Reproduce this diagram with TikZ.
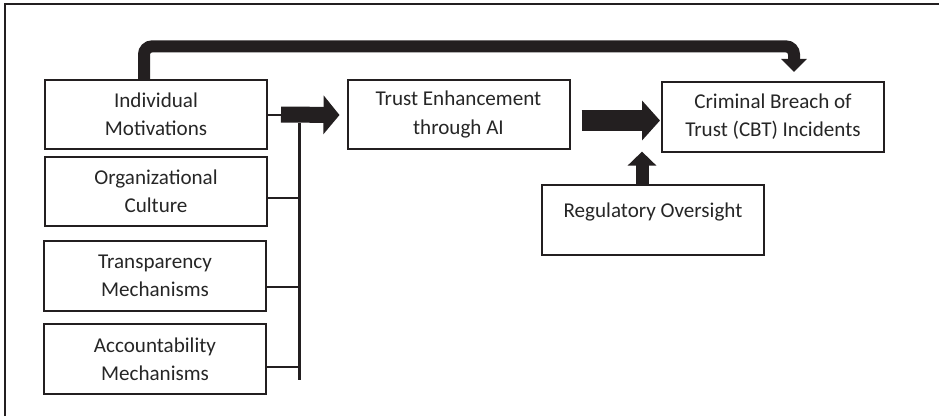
\documentclass[tikz,border=0pt]{standalone}
\usepackage{fontspec}
\setmainfont{Carlito}
\usetikzlibrary{arrows.meta,calc}
\definecolor{ink}{RGB}{35,31,32}
\begin{document}
\begin{tikzpicture}[x=0.25mm,y=-0.25mm, font=\fontsize{15}{20}\selectfont, line join=miter,
	box/.style={draw=ink, line width=0.5mm, minimum width=55.5mm, minimum height=17.3mm, align=center, text=black!85, inner sep=0pt},
	thin/.style={draw=ink, line width=0.5mm},
	fat/.style={draw=ink, line width=#1}]
	\useasboundingbox (0,0) rectangle (939,416);
	\draw[ink, line width=0.4mm] (5,416)--(5,4)--(939,4);
	\node[box] (ind) at (156,114.5) {Individual\\Motivations};
	\node[box] (org) at (156,191.5) {Organizational\\Culture};
	\node[box] (trans) at (155,276) {Transparency\\Mechanisms};
	\node[box] (acc) at (155,359) {Accountability\\Mechanisms};
	\node[box] (trust) at (458.5,114.5) {Trust Enhancement\\through AI};
	\node[box] (cbt) at (773,117) {Criminal Breach of\\Trust (CBT) Incidents};
	\node[box, text depth=14pt] (reg) at (653,220) {Regulatory Oversight};
	\coordinate (bustop) at (299,123);
	\coordinate (busbot) at (299,380);
	\draw[ink, line width=0.75mm] (bustop)--(busbot);
	\foreach \n/\d in {org/6,trans/11,acc/8}
	\draw[thin] ($(\n.east)+(0,\d)$)--($(\n.east -| bustop)+(0,\d)$);
	\draw[thin] (ind.east)--++(13,0) coordinate (m1);
	\draw[fat=4mm, -{Triangle[length=4mm,width=9.5mm]}] (m1)--($(trust.west)+(-7,0.5)$);
	\draw[fat=5.25mm, -{Triangle[length=4.5mm,width=9.75mm]}] ($(trust.east)+(11,6)$)--($(cbt.west)+(-1,3.5)$);
	\draw[fat=3.25mm, -{Triangle[length=3.5mm,width=7mm]}] ($(reg.north)+(-11,0)$) coordinate (r1)--($(r1 |- cbt.south)+(0,-1)$);
	\draw[fat=3mm, rounded corners=2mm, -{Triangle[length=3.25mm,width=6.25mm]}] ($(ind.north)+(-12,0)$) |- ($(cbt.north)+(21,-35)$)--($(cbt.north)+(21,-9.5)$);
\end{tikzpicture}
\end{document}
